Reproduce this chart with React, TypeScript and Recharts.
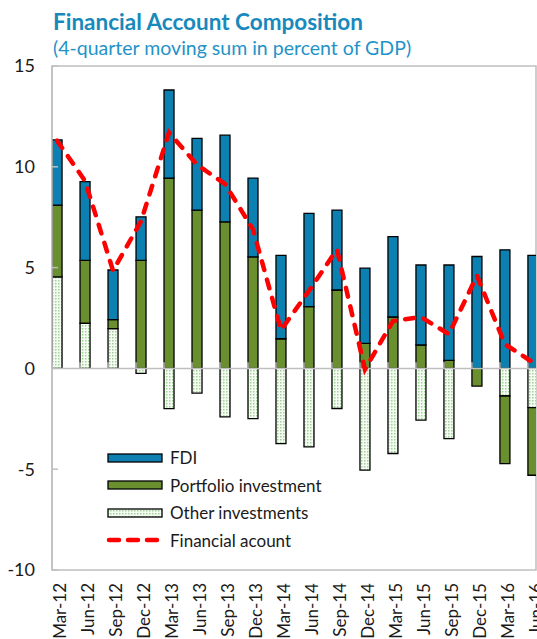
import { ComposedChart, Bar, Line, XAxis, YAxis, ReferenceLine, ReferenceArea } from "recharts";

const categories = [
  "Mar-12", "Jun-12", "Sep-12", "Dec-12", "Mar-13", "Jun-13", "Sep-13", "Dec-13", "Mar-14",
  "Jun-14", "Sep-14", "Dec-14", "Mar-15", "Jun-15", "Sep-15", "Dec-15", "Mar-16", "Jun-16",
];
const fdi = [3.24, 3.9, 2.46, 2.16, 4.37, 3.56, 4.3, 3.91, 4.14, 4.63, 3.96, 3.73, 3.99, 3.97, 4.73, 5.55, 5.88, 5.61];
const portfolio = [3.56, 3.12, 0.45, 5.36, 9.44, 7.85, 7.27, 5.53, 1.47, 3.06, 3.89, 1.24, 2.55, 1.16, 0.4, -0.88, -3.35, -3.35];
const otherInv = [4.54, 2.24, 1.97, -0.25, -2.0, -1.23, -2.4, -2.49, -3.73, -3.89, -1.99, -5.05, -4.22, -2.57, -3.48, 0, -1.37, -1.95];
const financialAccount = [11.3, 9.3, 4.85, 7.3, 11.7, 10.1, 9.15, 6.9, 1.9, 3.85, 5.9, -0.05, 2.35, 2.55, 1.7, 4.6, 1.2, 0.3];
const yTicks = [-10, -5, 0, 5, 10, 15];

const data = categories.map((label, i) => ({
  idx: i,
  label,
  fdi: fdi[i],
  portfolio: portfolio[i],
  other: otherInv[i],
  fa: financialAccount[i],
}));

const X_MIN = -0.18;
const X_MAX = 17.11;
const FONT = "Lato, 'Open Sans', sans-serif";
const BLUE = "#0b80b1";
const GREEN = "#6a8f2e";
const RED = "#ff0000";
const GRID = "#bfbfbf";

const XTick = ({ x, y, payload }: any) => {
  const tx = x + 9;
  return (
    <text
      x={tx}
      y={y}
      transform={`rotate(-90 ${tx} ${y})`}
      textAnchor="end"
      fontSize={17}
      fontFamily={FONT}
      fill="#1a1a1a"
    >
      {categories[payload.value]}
    </text>
  );
};

const legendItems = [
  { name: "FDI", kind: "fdi" },
  { name: "Portfolio investment", kind: "portfolio" },
  { name: "Other investments", kind: "other" },
  { name: "Financial acount", kind: "line" },
];

const ChartLegend = () => (
  <div style={{ position: "absolute", left: 106, top: 444, fontFamily: FONT, fontSize: 17, color: "#1a1a1a" }}>
    {legendItems.map((it) => (
      <div key={it.name} style={{ display: "flex", alignItems: "center", height: 27.5 }}>
        <svg width={60} height={14} style={{ marginRight: 4 }}>
          <defs>
            <pattern id="dotsLegend" width="3" height="3" patternUnits="userSpaceOnUse">
              <rect width="3" height="3" fill="#f6fbf4" />
              <rect x="1" y="1" width="1.5" height="1.5" fill="#9fd396" />
            </pattern>
          </defs>
          {it.kind === "line" ? (
            <line x1={3} y1={7} x2={56} y2={7} stroke={RED} strokeWidth={4.5} strokeDasharray="10 9" strokeLinecap="round" />
          ) : (
            <rect
              x={2}
              y={3}
              width={54}
              height={8}
              fill={it.kind === "fdi" ? BLUE : it.kind === "portfolio" ? GREEN : "url(#dotsLegend)"}
              stroke="#000"
              strokeWidth={1.3}
            />
          )}
        </svg>
        <span>{it.name}</span>
      </div>
    ))}
  </div>
);

export default function App() {
  return (
    <div style={{ position: "absolute", left: 0, top: 0, width: 537, height: 639, overflow: "hidden", background: "#fff" }}>
      <div style={{ position: "absolute", left: 53, top: 11, fontFamily: FONT, fontSize: 22.5, lineHeight: "22px", fontWeight: 700, color: "#1789bd", whiteSpace: "nowrap" }}>
        Financial Account Composition
      </div>
      <div style={{ position: "absolute", left: 53, top: 38, fontFamily: FONT, fontSize: 19.5, lineHeight: "20px", color: "#1f93c8", whiteSpace: "nowrap" }}>
        (4-quarter moving sum in percent of GDP)
      </div>
      <ComposedChart
        width={537}
        height={639}
        data={data}
        stackOffset="sign"
        margin={{ top: 66, right: 1, left: 0, bottom: 0 }}
        style={{ position: "absolute", left: 0, top: 0 }}
      >
        <defs>
          <pattern id="dots" width="3" height="3" patternUnits="userSpaceOnUse">
            <rect width="3" height="3" fill="#f6fbf4" />
            <rect x="1" y="1" width="1.5" height="1.5" fill="#9fd396" />
          </pattern>
        </defs>
        <XAxis
          dataKey="idx"
          type="number"
          domain={[X_MIN, X_MAX]}
          allowDataOverflow
          ticks={categories.map((_, i) => i)}
          interval={0}
          height={69}
          axisLine={false}
          tickLine={false}
          tickMargin={7}
          tick={<XTick />}
        />
        <YAxis
          width={52}
          domain={[-10, 15]}
          ticks={yTicks}
          interval={0}
          axisLine={{ stroke: GRID, strokeWidth: 1.5 }}
          tickLine={{ stroke: GRID, strokeWidth: 1.5 }}
          tickSize={-6}
          tickMargin={23}
          tick={{ fontSize: 18, fontFamily: FONT, fill: "#1a1a1a" }}
        />
        <ReferenceArea x1={X_MIN} x2={X_MAX} y1={-10} y2={15} fill="none" stroke={GRID} strokeWidth={1.5} ifOverflow="visible" />
        <Bar dataKey="other" stackId="a" barSize={10} fill="url(#dots)" stroke="#000" strokeWidth={1.3} isAnimationActive={false} />
        <Bar dataKey="portfolio" stackId="a" barSize={10} fill={GREEN} stroke="#000" strokeWidth={1.3} isAnimationActive={false} />
        <Bar dataKey="fdi" stackId="a" barSize={10} fill={BLUE} stroke="#000" strokeWidth={1.3} isAnimationActive={false} />
        <ReferenceLine y={0} stroke={GRID} strokeWidth={1.5} />
        {categories.map((c, i) => (
          <ReferenceLine
            key={c}
            segment={[{ x: X_MIN + i, y: 0 }, { x: X_MIN + i, y: 0.3 }]}
            stroke={GRID}
            strokeWidth={1.5}
          />
        ))}
        <Line
          type="linear"
          dataKey="fa"
          stroke={RED}
          strokeWidth={4.5}
          strokeDasharray="9 10"
          strokeLinecap="round"
          dot={false}
          activeDot={false}
          isAnimationActive={false}
        />
      </ComposedChart>
      <ChartLegend />
    </div>
  );
}
